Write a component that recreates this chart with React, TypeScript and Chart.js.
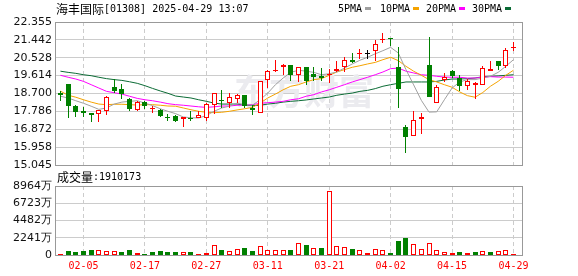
import React, { useEffect, useRef } from "react";
import { Chart, registerables } from "chart.js";

Chart.register(...registerables);

// ---------- data ----------
const stockName = "海丰国际";
const stockCode = "01308";
const timeText = "2025-04-29 13:07";
const volumeTitle = "成交量";
const lastVolumeText = "1910173";
const watermarkText = "东方财富";

const dates = [
  "01-28", "02-03", "02-04", "02-05", "02-06", "02-07", "02-10", "02-11", "02-12", "02-13",
  "02-14", "02-17", "02-18", "02-19", "02-20", "02-21", "02-24", "02-25", "02-26", "02-27",
  "02-28", "03-03", "03-04", "03-05", "03-06", "03-07", "03-10", "03-11", "03-12", "03-13",
  "03-14", "03-17", "03-18", "03-19", "03-20", "03-21", "03-24", "03-25", "03-26", "03-27",
  "03-28", "03-31", "04-01", "04-02", "04-03", "04-07", "04-08", "04-09", "04-10", "04-11",
  "04-14", "04-15", "04-16", "04-17", "04-22", "04-23", "04-24", "04-25", "04-28", "04-29",
];

const axisDates = ["02-05", "02-17", "02-27", "03-11", "03-21", "04-02", "04-15", "04-29"];

const opens = [
  18.74, 19.19, 18.06, 17.79, 17.70, 17.64, 17.79, 19.03, 18.93, 18.42,
  17.84, 18.25, 17.89, 17.86, 17.50, 17.57, 17.41, 17.46, 17.46, 17.45,
  18.10, 18.33, 18.20, 18.42, 18.61, 17.94, 17.69, 19.37, 19.85, 20.04,
  20.14, 19.66, 20.04, 19.70, 19.58, 19.66, 19.84, 20.04, 20.41, 20.70,
  20.74, 20.89, 21.46, 21.54, 20.05, 16.99, 16.51, 17.40, 20.14, 18.21,
  19.40, 19.85, 19.49, 19.07, 19.12, 19.12, 19.87, 20.35, 20.12, 21.03,
];
const highs = [
  18.84, 19.21, 18.10, 18.01, 17.71, 17.85, 18.57, 19.42, 19.18, 18.47,
  18.32, 18.33, 18.04, 17.92, 17.64, 17.62, 17.51, 17.79, 17.82, 18.20,
  18.72, 18.89, 18.71, 18.67, 18.63, 18.10, 19.33, 19.92, 20.40, 20.21,
  20.14, 20.04, 20.06, 20.04, 20.00, 19.97, 20.35, 20.55, 20.77, 20.96,
  20.92, 21.44, 21.79, 21.55, 21.06, 17.10, 17.79, 17.70, 21.59, 19.15,
  19.73, 19.92, 19.66, 19.44, 19.27, 20.09, 20.35, 20.35, 21.03, 21.33,
];
const lows = [
  18.33, 17.45, 17.48, 17.52, 17.26, 17.26, 17.62, 18.73, 18.43, 17.82,
  17.82, 17.92, 17.72, 17.50, 17.31, 17.24, 17.00, 17.28, 17.45, 17.31,
  17.67, 17.96, 17.96, 18.20, 17.94, 17.62, 17.68, 18.98, 19.78, 19.66,
  19.36, 19.29, 19.15, 19.32, 19.32, 19.24, 19.80, 19.80, 20.26, 20.45,
  20.45, 20.35, 21.28, 21.11, 17.96, 15.66, 16.51, 16.65, 18.51, 18.21,
  19.29, 19.49, 18.84, 18.89, 18.43, 19.12, 19.86, 19.92, 20.00, 20.89,
];
const closes = [
  18.62, 18.08, 17.77, 17.72, 17.62, 17.84, 18.52, 18.83, 18.66, 17.92,
  18.25, 18.08, 17.92, 17.57, 17.46, 17.31, 17.48, 17.41, 17.60, 18.17,
  18.71, 18.30, 18.50, 18.61, 18.06, 17.86, 19.32, 19.87, 19.90, 20.14,
  19.66, 20.04, 19.32, 19.53, 19.50, 19.71, 19.95, 20.41, 20.33, 20.72,
  20.74, 21.23, 21.50, 21.48, 18.95, 16.46, 17.33, 17.50, 18.51, 19.02,
  19.54, 19.61, 19.10, 19.35, 19.22, 19.99, 19.95, 20.12, 20.94, 21.08,
];
// close of the session before the first one shown (first volume bar is an up bar)
const closeBeforeFirst = 18.50;

const ma5 = [
  18.56, 18.47, 18.33, 18.20, 18.05, 17.89, 17.96, 18.16, 18.26, 18.30,
  18.33, 18.21, 18.08, 17.92, 17.79, 17.67, 17.50, 17.46, 17.45, 17.57,
  17.79, 17.96, 18.05, 18.21, 18.13, 18.10, 18.38, 18.72, 19.15, 19.49,
  19.78, 19.89, 19.84, 19.78, 19.66, 19.71, 19.80, 20.00, 20.21, 20.40,
  20.55, 20.73, 20.89, 21.06, 20.77, 19.92, 19.14, 18.35, 17.75, 17.76,
  18.38, 18.98, 19.29, 19.41, 19.41, 19.49, 19.58, 19.78, 20.09, 20.43,
];
const ma10 = [
  18.82, 18.61, 18.51, 18.38, 18.26, 18.16, 18.13, 18.15, 18.15, 18.13,
  18.11, 18.13, 18.13, 18.10, 18.06, 18.05, 17.96, 17.87, 17.79, 17.74,
  17.72, 17.74, 17.79, 17.86, 17.92, 17.99, 18.21, 18.47, 18.67, 18.89,
  19.07, 19.15, 19.29, 19.41, 19.46, 19.63, 19.80, 19.92, 20.04, 20.12,
  20.21, 20.29, 20.43, 20.55, 20.38, 20.09, 19.84, 19.63, 19.41, 19.29,
  19.15, 19.02, 18.78, 18.59, 18.51, 18.75, 19.07, 19.32, 19.63, 19.89,
];
const ma20 = [
  19.63, 19.53, 19.44, 19.32, 19.15, 18.98, 18.81, 18.74, 18.67, 18.56,
  18.45, 18.38, 18.33, 18.26, 18.18, 18.13, 18.10, 18.06, 18.02, 17.99,
  18.02, 18.06, 18.06, 18.10, 18.11, 18.13, 18.20, 18.23, 18.26, 18.30,
  18.38, 18.43, 18.56, 18.64, 18.78, 18.89, 19.02, 19.15, 19.29, 19.41,
  19.53, 19.66, 19.80, 19.97, 20.00, 19.84, 19.75, 19.66, 19.63, 19.58,
  19.54, 19.53, 19.53, 19.49, 19.49, 19.53, 19.56, 19.54, 19.54, 19.53,
];
const ma30 = [
  19.84, 19.78, 19.73, 19.66, 19.61, 19.53, 19.46, 19.41, 19.37, 19.30,
  19.22, 19.10, 18.96, 18.83, 18.71, 18.57, 18.52, 18.47, 18.38, 18.30,
  18.21, 18.16, 18.16, 18.16, 18.10, 18.08, 18.10, 18.16, 18.20, 18.26,
  18.30, 18.33, 18.37, 18.42, 18.47, 18.52, 18.61, 18.67, 18.72, 18.81,
  18.86, 18.95, 19.07, 19.15, 19.22, 19.29, 19.29, 19.29, 19.29, 19.32,
  19.39, 19.44, 19.44, 19.46, 19.49, 19.56, 19.58, 19.60, 19.63, 19.66,
];

// volume in 万 shares
const volumes = [
  180, 565, 435, 565, 650, 650, 520, 520, 435, 650,
  260, 130, 435, 520, 435, 435, 390, 435, 130, 260,
  1305, 650, 520, 740, 915, 520, 1130, 610, 610, 610,
  650, 1520, 1305, 870, 870, 8310, 1130, 1000, 740, 610,
  260, 740, 610, 260, 1830, 2220, 1435, 740, 1520, 610,
  390, 260, 390, 260, 390, 520, 390, 520, 610, 191,
];

const priceTicks = [15.045, 15.958, 16.872, 17.786, 18.7, 19.614, 20.528, 21.442, 22.355];
const priceTickLabels = ["15.045", "15.958", "16.872", "17.786", "18.700", "19.614", "20.528", "21.442", "22.355"];
const volumeTicks = [0, 2241, 4482, 6723, 8964];
const volumeTickLabels = ["0", "2241万", "4482万", "6723万", "8964万"];

const maNames = ["5PMA", "10PMA", "20PMA", "30PMA"];

// ---------- styles ----------
const RED = "#ff0000";
const GREEN = "#008000";
const MA_COLORS = ["#a0a0a0", "#f5a300", "#ff00ff", "#0b6b35"];
const GRID = "#cccccc";
const FRAME = "#999999";
const CJK = '"Noto Sans CJK SC"';
const MONO = '"DejaVu Sans Mono"';
const X_MIN = -0.71;
const X_MAX = 60.11;
const LEGEND_X = [338, 380, 426, 472];

const labelIdx = axisDates.map((d) => dates.indexOf(d));
const idx = dates.map((_, i) => i);
const candleColor = (i: number) =>
  closes[i] > opens[i] ? RED : closes[i] < opens[i] ? GREEN : "#000000";
const volUp = idx.map((i) => closes[i] >= (i === 0 ? closeBeforeFirst : closes[i - 1]));

const maSeries = [ma5, ma10, ma20, ma30].map((values, k) => ({
  name: maNames[k],
  values,
  color: MA_COLORS[k],
}));

// snap bar elements (positions computed by the scales) to whole pixels for crisp 1px edges
const snapPlugin = {
  id: "snap",
  afterDatasetsUpdate(chart: any) {
    chart.getSortedVisibleDatasetMetas().forEach((meta: any) => {
      if (meta.type !== "bar") return;
      meta.data.forEach((el: any) => {
        el.x = Math.floor(el.x) + 0.5;
        let y = Math.round(el.y);
        const base = Math.round(el.base);
        if (Math.abs(y - base) < 1) y = base - 1;
        el.y = y;
        el.base = base;
        el.height = base - y;
      });
    });
  },
};

const framePlugin = {
  id: "frame",
  afterDraw(chart: any) {
    const { ctx, chartArea } = chart;
    const { left, top, right, bottom } = chartArea;
    ctx.save();
    ctx.strokeStyle = FRAME;
    ctx.lineWidth = 1;
    ctx.strokeRect(Math.round(left) + 0.5, Math.round(top) + 0.5, Math.round(right - left), Math.round(bottom - top));
    ctx.restore();
  },
};

const mainDecor = {
  id: "mainDecor",
  beforeDatasetsDraw(chart: any) {
    const { ctx } = chart;
    ctx.save();
    ctx.fillStyle = "#ebebef";
    ctx.font = `bold 35px ${CJK}`;
    ctx.textBaseline = "middle";
    ctx.textAlign = "left";
    ctx.fillText(watermarkText, 234, 92);
    ctx.restore();
  },
  afterDraw(chart: any) {
    const { ctx } = chart;
    ctx.save();
    ctx.textBaseline = "middle";
    ctx.textAlign = "left";
    ctx.fillStyle = "#000";
    ctx.font = `12px ${CJK}`;
    ctx.fillText(stockName, 56, 9);
    const w = ctx.measureText(stockName).width;
    ctx.font = `10px ${MONO}`;
    ctx.fillText(`[${stockCode}] ${timeText}`, 56 + w, 9);
    maSeries.forEach((s, k) => {
      ctx.font = `10px ${MONO}`;
      ctx.fillStyle = "#000";
      ctx.fillText(s.name, LEGEND_X[k], 9);
      const tw = ctx.measureText(s.name).width;
      ctx.fillStyle = s.color;
      ctx.fillRect(Math.round(LEGEND_X[k] + tw + 3), 7, 6, 3);
    });
    ctx.restore();
  },
};

const volDecor = {
  id: "volDecor",
  afterDraw(chart: any) {
    const { ctx } = chart;
    ctx.save();
    ctx.textBaseline = "middle";
    ctx.textAlign = "left";
    ctx.fillStyle = "#000";
    ctx.font = `12px ${CJK}`;
    ctx.fillText(volumeTitle, 57, 7);
    const w = ctx.measureText(volumeTitle).width;
    ctx.font = `10px ${MONO}`;
    ctx.fillText(`:${lastVolumeText}`, 57 + w, 7);
    ctx.restore();
  },
};

const xAxis = (showLabels: boolean, height: number) => ({
  type: "linear",
  min: X_MIN,
  max: X_MAX,
  offset: false,
  afterBuildTicks: (s: any) => {
    s.ticks = labelIdx.map((v) => ({ value: v }));
  },
  afterFit: (s: any) => {
    s.height = height;
  },
  ticks: {
    display: showLabels,
    autoSkip: false,
    maxRotation: 0,
    minRotation: 0,
    padding: 5,
    color: RED,
    font: { family: "DejaVu Sans Mono", size: 10 },
    callback: (v: any) => dates[v],
  },
  grid: { color: GRID, lineWidth: 1, drawTicks: false, offset: false },
  border: { display: false, dash: [4, 3] },
});

const yAxis = (min: number, max: number, ticks: number[], labels: string[]) => ({
  type: "linear",
  min,
  max,
  beginAtZero: false,
  afterBuildTicks: (s: any) => {
    s.ticks = ticks.map((v) => ({ value: v }));
  },
  afterFit: (s: any) => {
    s.width = 55;
  },
  ticks: {
    autoSkip: false,
    padding: 3,
    color: "#111",
    font: { family: "DejaVu Sans", size: 11 },
    callback: (_v: any, i: number) => labels[i],
  },
  grid: { color: GRID, lineWidth: 1, drawTicks: false },
  border: { display: false },
});

export default function App() {
  const mainRef = useRef<HTMLCanvasElement>(null);
  const volRef = useRef<HTMLCanvasElement>(null);

  useEffect(() => {
    const mainChart = new Chart(mainRef.current as HTMLCanvasElement, {
      type: "bar",
      data: {
        datasets: [
          ...maSeries.map((s) => ({
            type: "line",
            label: s.name,
            data: s.values.map((v, i) => ({ x: i, y: v })),
            borderColor: s.color,
            backgroundColor: s.color,
            borderWidth: 1,
            pointRadius: 0,
            tension: 0,
            fill: false,
            order: 3,
          })),
          {
            type: "bar",
            label: "wick",
            data: idx.map((i) => ({ x: i, y: [lows[i], highs[i]] })),
            backgroundColor: idx.map(candleColor),
            borderWidth: 0,
            barThickness: 1,
            grouped: false,
            inflateAmount: 0,
            order: 2,
          },
          {
            type: "bar",
            label: "body",
            data: idx.map((i) => ({ x: i, y: [opens[i], closes[i]] })),
            backgroundColor: idx.map((i) =>
              closes[i] > opens[i] ? "#ffffff" : candleColor(i)
            ),
            borderColor: idx.map(candleColor),
            borderWidth: idx.map((i) => (closes[i] > opens[i] ? 1 : 0)),
            borderSkipped: false,
            barThickness: 5,
            minBarLength: 1,
            grouped: false,
            inflateAmount: 0,
            order: 1,
          },
        ] as any,
      },
      options: {
        responsive: false,
        animation: false,
        devicePixelRatio: 1,
        events: [],
        layout: { padding: { left: 0, right: 56, top: 22, bottom: 15 } },
        plugins: {
          legend: { display: false },
          tooltip: { enabled: false },
          title: { display: false },
        },
        scales: {
          x: xAxis(false, 0) as any,
          y: yAxis(15.045, 22.355, priceTicks, priceTickLabels) as any,
        },
      },
      plugins: [snapPlugin, mainDecor, framePlugin],
    });

    const volChart = new Chart(volRef.current as HTMLCanvasElement, {
      type: "bar",
      data: {
        datasets: [
          {
            label: "volume",
            data: idx.map((i) => ({ x: i, y: volumes[i] })),
            backgroundColor: volUp.map((u) => (u ? "#ffffff" : GREEN)),
            borderColor: volUp.map((u) => (u ? RED : GREEN)),
            borderWidth: volUp.map((u) => (u ? 1 : 0)),
            borderSkipped: false,
            barThickness: 5,
            grouped: false,
            inflateAmount: 0,
          },
        ] as any,
      },
      options: {
        responsive: false,
        animation: false,
        devicePixelRatio: 1,
        events: [],
        layout: { padding: { left: 0, right: 56, top: 16, bottom: 0 } },
        plugins: {
          legend: { display: false },
          tooltip: { enabled: false },
          title: { display: false },
        },
        scales: {
          x: xAxis(true, 21) as any,
          y: yAxis(0, 8964, volumeTicks, volumeTickLabels) as any,
        },
      },
      plugins: [snapPlugin, volDecor, framePlugin],
    });

    return () => {
      mainChart.destroy();
      volChart.destroy();
    };
  }, []);

  return (
    <div
      style={{
        position: "fixed",
        left: 0,
        top: 0,
        width: 578,
        height: 276,
        background: "#ffffff",
        overflow: "hidden",
      }}
    >
      <canvas
        ref={mainRef}
        width={578}
        height={180}
        style={{ position: "absolute", left: 0, top: 0, width: 578, height: 180 }}
      />
      <canvas
        ref={volRef}
        width={578}
        height={106}
        style={{ position: "absolute", left: 0, top: 170, width: 578, height: 106 }}
      />
    </div>
  );
}
